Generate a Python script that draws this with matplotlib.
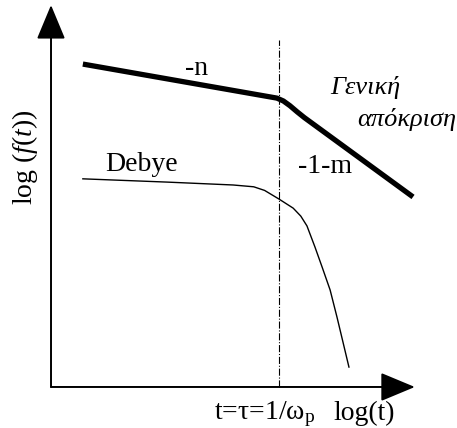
import matplotlib
matplotlib.use("Agg")
import matplotlib.pyplot as plt

plt.rcParams['font.family'] = ['Liberation Serif', 'DejaVu Serif']
plt.rcParams['mathtext.fontset'] = 'custom'
plt.rcParams['mathtext.rm'] = 'Liberation Serif'
plt.rcParams['mathtext.it'] = 'Liberation Serif:italic'

# generalised response: two power-law slopes (-n, then -1-m) in log-log units
general_x = [0.88, 6.24, 6.42, 6.60, 6.80, 7.00, 10.0]
general_y = [8.92, 7.98, 7.90, 7.77, 7.60, 7.44, 5.25]

# Debye relaxation: flat, then a sharp drop after the loss peak
debye_x = [0.88, 3.20, 5.03, 5.60, 5.90, 6.30, 6.69, 6.90, 7.07, 7.29, 7.49, 7.71, 7.90, 8.07, 8.23]
debye_y = [5.75, 5.66, 5.58, 5.53, 5.43, 5.19, 4.94, 4.72, 4.45, 3.87, 3.31, 2.68, 1.93, 1.22, 0.55]

t_peak = 6.30     # t = tau = 1/omega_p
axis_end_x = 10.05
axis_end_y = 10.55
peak_line_top = 9.59

fig = plt.figure(figsize=(4.57, 4.28), dpi=100)
ax = fig.add_axes([0, 0, 1, 1])
ax.set_xlim(-1.409, 11.215)
ax.set_ylim(-1.133, 10.69)
ax.axis('off')

# axes with arrow heads
arrow = dict(arrowstyle='-|>,head_length=0.6,head_width=0.25', color='black', lw=1.4,
             mutation_scale=36, shrinkA=0, shrinkB=0)
ax.annotate('', xy=(axis_end_x, 0), xytext=(0, 0), arrowprops=arrow)
ax.annotate('', xy=(0, axis_end_y), xytext=(0, 0), arrowprops=arrow)

ax.plot([t_peak, t_peak], [0, peak_line_top], color='black', lw=0.8, ls='-.')

ax.plot(general_x, general_y, color='black', lw=3.8, solid_capstyle='butt')
ax.plot(debye_x, debye_y, color='black', lw=1.0)

fs = 20
ax.text(4.03, 8.80, '-n', fontsize=fs, ha='center', va='center')
ax.text(6.82, 6.08, '-1-m', fontsize=fs, ha='left', va='center')
ax.text(1.50, 6.14, 'Debye', fontsize=fs, ha='left', va='center')
ax.text(7.71, 8.26, 'Γενική', fontsize=fs - 1, style='italic', ha='left', va='center')
ax.text(8.45, 7.40, 'απόκριση', fontsize=fs - 1, style='italic', ha='left', va='center')

ax.text(-0.72, 6.35, r'log ($f(t)$)', fontsize=fs, rotation=90, ha='center', va='center')
ax.text(5.91, -0.74, r't=τ=1/ω$_{\rm p}$', fontsize=fs, ha='center', va='center')
ax.text(8.65, -0.72, 'log(t)', fontsize=fs, ha='center', va='center')

fig.savefig('out.png', dpi=100)
